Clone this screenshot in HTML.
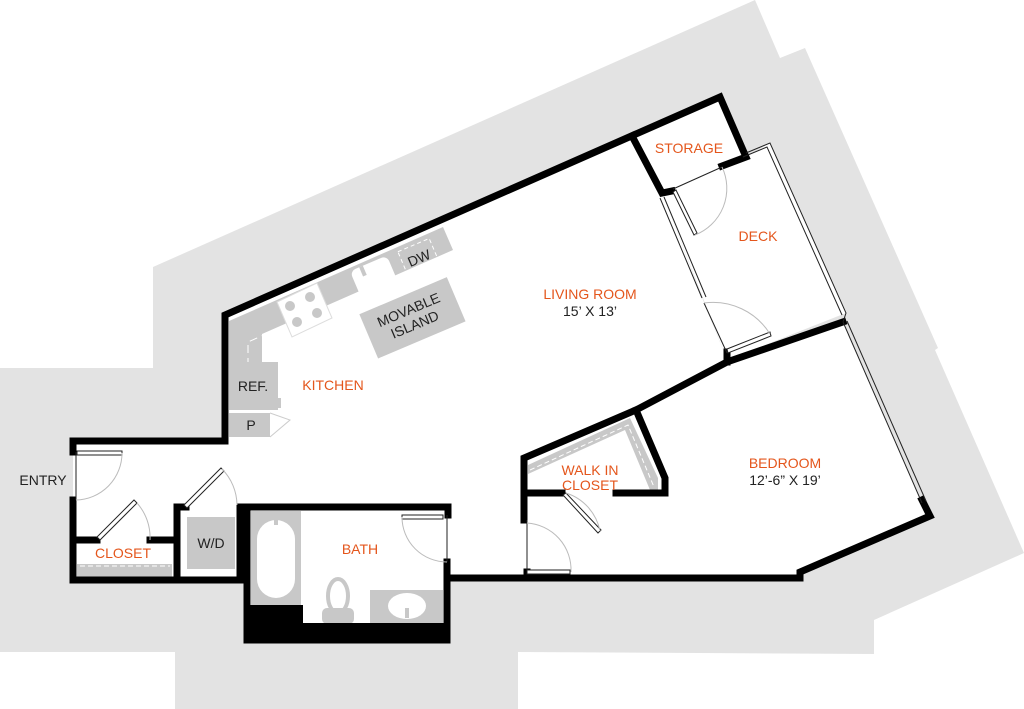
<!DOCTYPE html>
<html><head><meta charset="utf-8"><style>
html,body{margin:0;padding:0;background:#fff}
svg{display:block}
text{font-family:"Liberation Sans",sans-serif;font-size:14px}
.o{fill:#e4561c}
.k{fill:#222}
</style></head><body>
<svg width="1024" height="709" viewBox="0 0 1024 709" xmlns="http://www.w3.org/2000/svg">
<polygon fill="#e3e3e3" points="0,368 153,368 153,267 755,0 780,58 805,48 938,348 935,350 1024,553 874,620 874,654 518,652 518,709 175,709 175,652 0,652"/>
<polygon fill="#fff" points="225,441 225,315 632,136 663,195 703,300 727,360 843,322 928,515 800,572 800,578 448,578 448,640 245,640 245,580 73,580 73,441"/>
<polygon fill="#fff" points="720,167 746,157 770,143 846,313 727,360 663,195"/>
<polygon fill="#fff" points="632,136 720,97 746,157 720,167 663,195"/>

<polygon fill="#c8c8c8" points="229,321 443,227 453,250 262,334 262,362 229,362"/>
<polyline fill="none" stroke="#fff" stroke-width="1" stroke-dasharray="8,5" points="248,392 248,342 445,255"/>
<polygon fill="#fff" stroke="#ddd" points="277,302 317,283 332,318 292,337"/>
<circle cx="290" cy="306" r="5" fill="#c8c8c8"/><circle cx="310" cy="297" r="5" fill="#c8c8c8"/>
<circle cx="297" cy="322" r="5" fill="#c8c8c8"/><circle cx="317" cy="313" r="5" fill="#c8c8c8"/>
<rect x="355" y="262" width="40" height="34" rx="6" fill="#fff" transform="rotate(-23 375 279)"/>
<rect x="365" y="262" width="4" height="10" fill="#c8c8c8" transform="rotate(-23 375 279)"/>
<rect x="402" y="244" width="34" height="28" fill="none" stroke="#fff" stroke-dasharray="4,3" transform="rotate(-23 419 258)"/>
<text x="419" y="263" text-anchor="middle" class="k" transform="rotate(-23 419 258)">DW</text>
<rect x="229" y="362" width="49" height="48" fill="#c8c8c8"/>
<rect x="278" y="398" width="3" height="10" fill="#c8c8c8"/>
<text x="253" y="391" text-anchor="middle" class="k" font-size="13.5">REF.</text>
<rect x="229" y="413" width="41" height="24" fill="#c8c8c8"/>
<polyline points="270,413 290,420 270,437" fill="none" stroke="#ccc"/>
<text x="251" y="430" text-anchor="middle" class="k" font-size="13.5">P</text>
<g transform="rotate(-23 412 318)">
<rect x="365" y="294" width="95" height="48" fill="#c8c8c8"/>
<text x="412" y="314" text-anchor="middle" class="k" font-size="13">MOVABLE</text>
<text x="412" y="330" text-anchor="middle" class="k" font-size="13">ISLAND</text>
</g>

<rect x="77" y="564" width="95" height="14" fill="#c8c8c8"/>
<line x1="80" y1="566" x2="170" y2="566" stroke="#fff" stroke-dasharray="5,3"/>
<rect x="187" y="517" width="48" height="52" fill="#c8c8c8"/>
<rect x="251" y="511" width="50" height="97" fill="#c8c8c8"/>
<rect x="257" y="520" width="38" height="78" rx="19" fill="#fff"/>
<rect x="274" y="517" width="4" height="8" fill="#c8c8c8"/>
<ellipse cx="338" cy="596" rx="10" ry="17" fill="#fff" stroke="#c8c8c8" stroke-width="4"/>
<rect x="322" y="608" width="32" height="16" rx="5" fill="#c8c8c8"/>
<rect x="370" y="590" width="73" height="33" fill="#c8c8c8"/>
<ellipse cx="407" cy="606" rx="19" ry="13" fill="#fff"/>
<rect x="405" y="608" width="4" height="10" fill="#c8c8c8"/>

<polygon fill="#c8c8c8" points="528,465 630,418 658,478 658,490 650,490 625,430 528,474"/>
<polyline fill="none" stroke="#fff" stroke-dasharray="5,3" points="530,470 628,425 654,487"/>

<g fill="none" stroke="#000" stroke-width="7" stroke-linejoin="miter" stroke-linecap="square">
<polyline points="225,441 225,315 720,97 746,157 722,166"/>
<polyline points="632,136 662,193 672,191"/>
<polyline points="843,322 727,362 636,410 524,458 524,520"/>
<polyline points="636,410 665,478 665,493 616,493"/>
<line x1="527" y1="493" x2="562" y2="493"/>
<line x1="727" y1="352" x2="727" y2="362"/>
<polyline points="448,578 800,578 800,572 930,516 922,500"/>
<polyline points="527,578 527,572"/>
<polyline points="225,441 73,441 73,452"/>
<polyline points="73,500 73,580 245,580"/>
<polyline points="77,540 97,540"/><polyline points="150,540 172,540"/>
<polyline points="177,580 177,507 186,507"/>
<polyline points="240,575 240,507 448,507 448,515"/>
<polyline points="447,562 447,640 247,640 247,507"/>
</g>
<rect x="244" y="623" width="204" height="17" fill="#000"/>
<rect x="244" y="605" width="59" height="35" fill="#000"/>

<g fill="none" stroke="#222" stroke-width="1">
<polyline points="746,153 770,143 846,313 843,322"/>
<polyline points="743,157 767,147 842,315"/>
<line x1="843" y1="322" x2="922" y2="503"/><line x1="847" y1="321" x2="926" y2="501"/>
<line x1="660" y1="198" x2="702" y2="298"/><line x1="664" y1="197" x2="706" y2="297"/>
<line x1="704" y1="303" x2="727" y2="353"/>
<line x1="673" y1="189" x2="722" y2="167"/>
<line x1="527" y1="520" x2="527" y2="572"/>
<line x1="76" y1="452" x2="76" y2="500"/>
<line x1="447" y1="515" x2="447" y2="562"/>
</g>
<g fill="#fff" stroke="#222" stroke-width="1">
<polygon points="673,192 676,190 697,233 694,235"/>
<polygon points="727,349 770,332 771,336 728,353"/>
<polygon points="527,570 570,570 570,574 527,574"/>
<polygon points="563,495 566,493 601,530 598,533"/>
<polygon points="77,451 122,451 122,455 77,455"/>
<polygon points="97,537 100,540 137,503 134,500"/>
<polygon points="184,505 187,508 224,471 221,468"/>
<polygon points="402,515 443,515 443,519 402,519"/>
</g>
<g fill="none" stroke="#bbb" stroke-width="1">
<path d="M722,167 A50,50 0 0 1 695,235"/>
<path d="M704,303 A67,67 0 0 1 770,334"/>
<path d="M527,523 A47,47 0 0 1 571,572"/>
<path d="M566,493 A50,50 0 0 1 600,531"/>
<path d="M122,453 A47,47 0 0 1 76,500"/>
<path d="M137,503 A52,52 0 0 1 150,540"/>
<path d="M222,469 A52,52 0 0 1 237,505"/>
<path d="M402,517 A45,45 0 0 0 447,562"/>
</g>

<text x="333" y="390" text-anchor="middle" class="o">KITCHEN</text>
<text x="590" y="299" text-anchor="middle" class="o">LIVING ROOM</text>
<text x="590" y="316" text-anchor="middle" class="k" font-size="13">15’ X 13’</text>
<text x="689" y="153" text-anchor="middle" class="o">STORAGE</text>
<text x="758" y="241" text-anchor="middle" class="o">DECK</text>
<text x="785" y="468" text-anchor="middle" class="o">BEDROOM</text>
<text x="785" y="485" text-anchor="middle" class="k" font-size="13">12’-6” X 19’</text>
<text x="590" y="475" text-anchor="middle" class="o">WALK IN</text>
<text x="590" y="490" text-anchor="middle" class="o">CLOSET</text>
<text x="360" y="554" text-anchor="middle" class="o">BATH</text>
<text x="123" y="558" text-anchor="middle" class="o">CLOSET</text>
<text x="211" y="548" text-anchor="middle" class="k" font-size="13.5">W/D</text>
<text x="43" y="485" text-anchor="middle" class="k" font-size="13.5">ENTRY</text>
</svg>
</body></html>
